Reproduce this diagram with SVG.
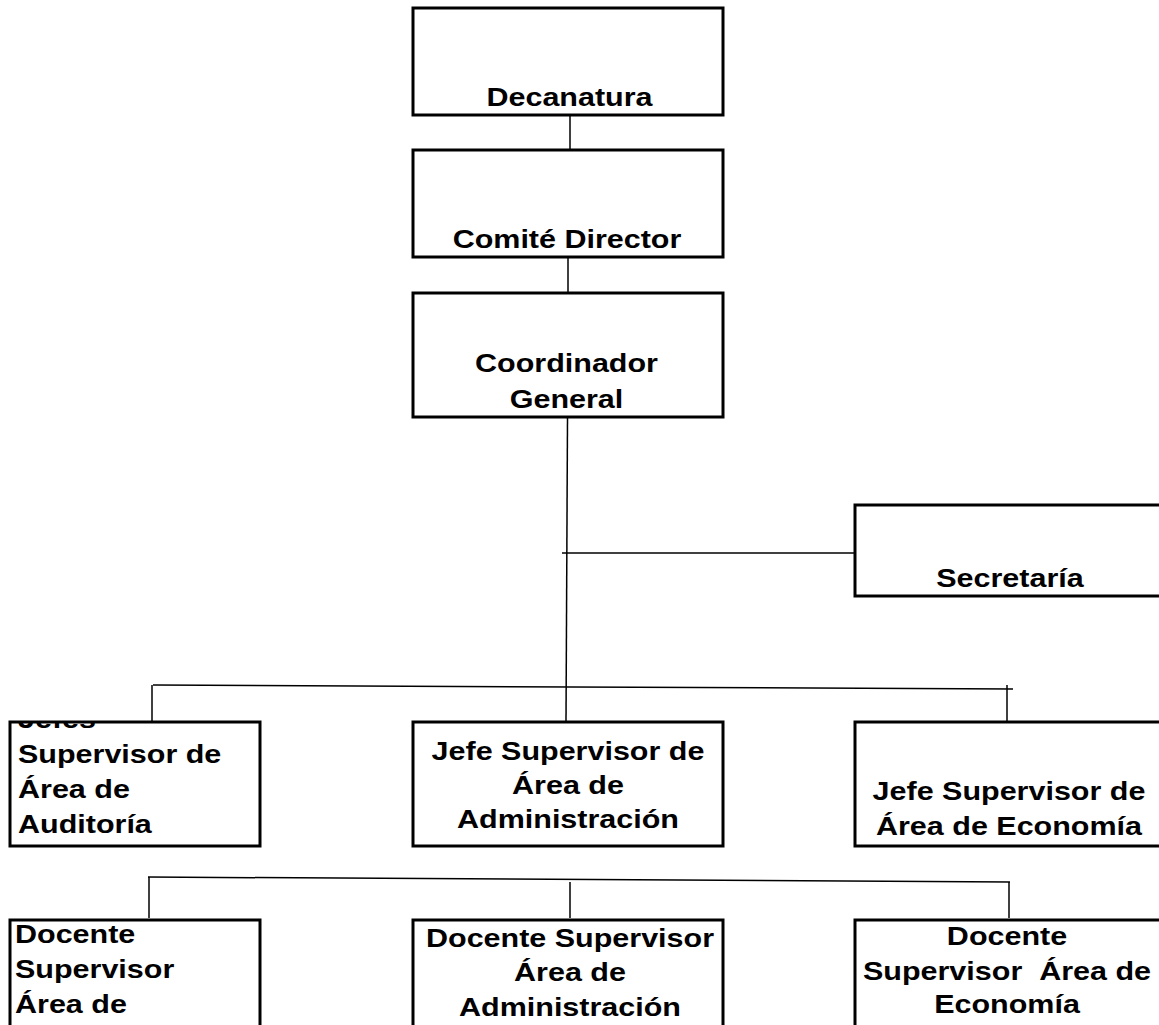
<svg xmlns="http://www.w3.org/2000/svg" width="1159" height="1025" viewBox="0 0 1159 1025">
<style>
.box{fill:#fff;stroke:#000;stroke-width:3}
.con line{stroke:#000;stroke-width:1.5}
text{font-family:"Liberation Sans",Arial,sans-serif;font-weight:bold;font-size:25px;fill:#000}
.c{text-anchor:middle}
.s{text-anchor:start}
</style>
<defs>
<clipPath id="clipJ1"><rect x="10" y="722" width="250" height="124"/></clipPath>
</defs>
<rect width="1159" height="1025" fill="#fff"/>
<g id="connectors" class="con">
<line x1="570" y1="116" x2="570" y2="149"/>
<line x1="568" y1="258" x2="568" y2="292"/>
<line x1="567.5" y1="418" x2="566" y2="722"/>
<line x1="562" y1="553" x2="854" y2="553"/>
<line x1="153" y1="685" x2="1013" y2="689"/>
<line x1="152" y1="685" x2="152" y2="721"/>
<line x1="1007" y1="685" x2="1007" y2="721"/>
<line x1="148" y1="877" x2="1010" y2="882"/>
<line x1="149" y1="877" x2="149" y2="918"/>
<line x1="570" y1="882" x2="570" y2="918"/>
<line x1="1009" y1="882" x2="1009" y2="918"/>
</g>
<g id="decanatura">
<rect class="box" x="413" y="8" width="310" height="107"/>
<g transform="translate(569.5,0) scale(1.22,1)"><text class="c" x="0" y="106">Decanatura</text></g>
</g>
<g id="comite">
<rect class="box" x="413" y="150" width="310" height="107"/>
<g transform="translate(567,0) scale(1.22,1)"><text class="c" x="0" y="248">Comité Director</text></g>
</g>
<g id="coordinador">
<rect class="box" x="413" y="293" width="310" height="124"/>
<g transform="translate(566.5,0) scale(1.22,1)"><text class="c" x="0" y="372">Coordinador</text><text class="c" x="0" y="408">General</text></g>
</g>
<g id="secretaria">
<rect class="box" x="855" y="505" width="320" height="91"/>
<g transform="translate(1010,0) scale(1.22,1)"><text class="c" x="0" y="587">Secretaría</text></g>
</g>
<g id="jefe-auditoria">
<rect class="box" x="10" y="722" width="250" height="124"/>
<g clip-path="url(#clipJ1)"><g transform="translate(18,0) scale(1.22,1)"><text class="s" x="0" y="728">Jefes</text><text class="s" x="0" y="763">Supervisor de</text><text class="s" x="0" y="798">Área de</text><text class="s" x="0" y="833">Auditoría</text></g></g>
</g>
<g id="jefe-administracion">
<rect class="box" x="413" y="722" width="310" height="124"/>
<g transform="translate(568,0) scale(1.22,1)"><text class="c" x="0" y="760">Jefe Supervisor de</text><text class="c" x="0" y="794">Área de</text><text class="c" x="0" y="828">Administración</text></g>
</g>
<g id="jefe-economia">
<rect class="box" x="855" y="722" width="320" height="124"/>
<g transform="translate(1009,0) scale(1.22,1)"><text class="c" x="0" y="800">Jefe Supervisor de</text><text class="c" x="0" y="835">Área de Economía</text></g>
</g>
<g id="docente-auditoria">
<rect class="box" x="10" y="920" width="250" height="130"/>
<g transform="translate(15,0) scale(1.22,1)"><text class="s" x="0" y="943">Docente</text><text class="s" x="0" y="978">Supervisor</text><text class="s" x="0" y="1013">Área de</text></g>
</g>
<g id="docente-administracion">
<rect class="box" x="413" y="920" width="310" height="130"/>
<g transform="translate(570,0) scale(1.22,1)"><text class="c" x="0" y="947">Docente Supervisor</text><text class="c" x="0" y="981">Área de</text><text class="c" x="0" y="1016">Administración</text></g>
</g>
<g id="docente-economia">
<rect class="box" x="855" y="920" width="320" height="130"/>
<g transform="translate(1007,0) scale(1.22,1)"><text class="c" x="0" y="945">Docente</text><text class="c" x="0" y="980" xml:space="preserve">Supervisor  Área de</text><text class="c" x="0" y="1013">Economía</text></g>
</g>
</svg>
